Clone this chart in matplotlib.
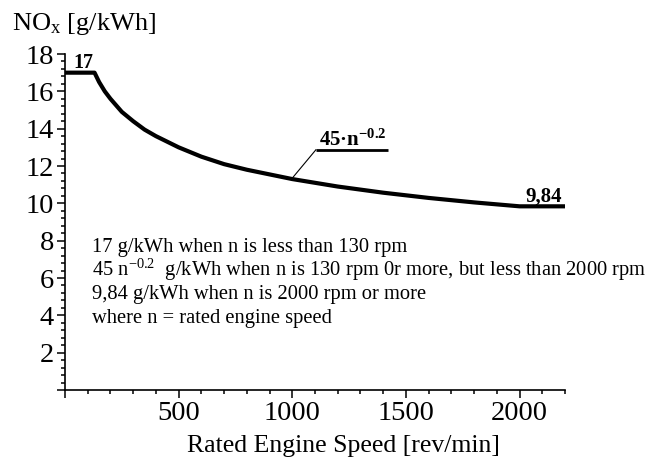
import matplotlib
matplotlib.use("Agg")
import matplotlib.pyplot as plt
from matplotlib.ticker import MultipleLocator, FixedLocator, FixedFormatter

# ---- data ----
rpm = [0, 130, 150, 175, 200, 250, 300, 350, 400, 500, 600, 700, 800, 900,
       1000, 1200, 1400, 1600, 1800, 2000, 2200]
nox = [17.0, 17.0, 16.5, 16.0, 15.6, 14.9, 14.4, 13.95, 13.6, 13.0, 12.5, 12.1,
       11.8, 11.55, 11.3, 10.9, 10.57, 10.29, 10.05, 9.84, 9.84]

x_major = [0, 500, 1000, 1500, 2000]
x_labels = ["", "500", "1000", "1500", "2000"]
y_major = [0, 2, 4, 6, 8, 10, 12, 14, 16, 18]
y_labels = ["", "2", "4", "6", "8", "10", "12", "14", "16", "18"]

label_17 = "17"
label_formula = r"45·n$^{\mathbf{-0.2}}$"
label_984 = "9,84"
notes = [
    "17 g/kWh when n is less than 130 rpm",
    r"45 n$^{-0.2}$  g/kWh when n is 130 rpm 0r more, but less than 2000 rpm",
    "9,84 g/kWh when n is 2000 rpm or more",
    "where n = rated engine speed",
]
xlabel = "Rated Engine Speed [rev/min]"
ylabel = r"NO$_{\mathrm{x}}$ [g/kWh]"

plt.rcParams['font.family'] = ['Liberation Serif', 'DejaVu Serif']
plt.rcParams['mathtext.fontset'] = 'custom'
plt.rcParams['mathtext.rm'] = 'Liberation Serif'
plt.rcParams['mathtext.it'] = 'Liberation Serif:italic'
plt.rcParams['mathtext.bf'] = 'Liberation Serif:bold'

W, H = 649, 459
fig = plt.figure(figsize=(W / 100, H / 100), dpi=100)
L, R, T, B = 65, 565, 54, 390
ax = fig.add_axes([L / W, 1 - B / H, (R - L) / W, (B - T) / H])

ax.plot(rpm, nox, color='black', lw=3, solid_joinstyle='round', solid_capstyle='butt',
        clip_on=False)

ax.set_xlim(0, 2200)
ax.set_ylim(0, 18)

for s in ['top', 'right']:
    ax.spines[s].set_visible(False)
for s in ['left', 'bottom']:
    ax.spines[s].set_linewidth(1.2)

ax.xaxis.set_major_locator(FixedLocator(x_major))
ax.xaxis.set_major_formatter(FixedFormatter(x_labels))
ax.xaxis.set_minor_locator(MultipleLocator(100))
ax.yaxis.set_major_locator(FixedLocator(y_major))
ax.yaxis.set_major_formatter(FixedFormatter(y_labels))
ax.yaxis.set_minor_locator(MultipleLocator(0.4))

ax.tick_params(which='major', length=6, width=1.1, labelsize=20.5, pad=2, direction='out')
ax.tick_params(which='minor', length=3, width=1.1, direction='out')

# annotations
ax.text(35, 17.25, label_17, fontsize=14.5, fontweight='bold', ha='left', va='baseline')
ax.text(2024, 10.1, label_984, fontsize=15, fontweight='bold', ha='left', va='baseline')
ax.text(1118, 13.1, label_formula, fontsize=15, fontweight='bold', ha='left', va='baseline')
ax.plot([1104, 1421], [12.87, 12.87], color='black', lw=2, solid_capstyle='butt')
ax.plot([1000, 1104], [11.35, 12.87], color='black', lw=0.8)

# note text (pixel baselines)
for i, line in enumerate(notes):
    py = 252 + i * 23.5
    fig.text(92 / W, 1 - py / H, line, fontsize=14.8, ha='left', va='baseline')

fig.text(343 / W, 1 - 452 / H, xlabel, fontsize=18.5, ha='center', va='baseline')
fig.text(12 / W, 1 - 30 / H, ylabel, fontsize=19, ha='left', va='baseline')

fig.savefig("out.png", dpi=100)
